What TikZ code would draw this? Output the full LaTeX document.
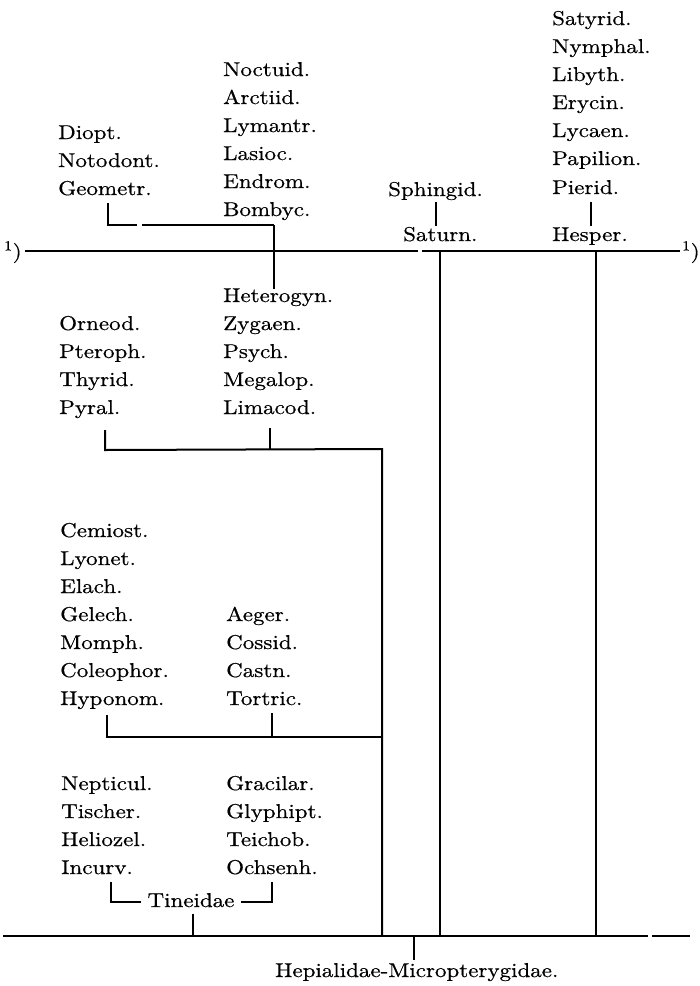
\documentclass[tikz,border=0pt]{standalone}
\usepackage{fontspec}
\setmainfont{lmroman10-regular.otf}[FakeBold=0.6, FakeStretch=1.15]
\newcommand\fsz{\fontsize{20}{24}\selectfont}
\tikzset{
  lbl/.style={anchor=base west, inner sep=0pt, font=\fsz},
  rule/.style={line width=2.2pt},
  conn/.style={line width=2pt}
}
\begin{document}
\begin{tikzpicture}[x=1pt,y=-1pt]
\useasboundingbox (0,0) rectangle (700,986);
% ---------- top right column
\node[lbl] (satyrid) at (552,25) {Satyrid.};
\node[lbl] (nymphal) at (552,53) {Nymphal.};
\node[lbl] (libyth) at (552,81) {Libyth.};
\node[lbl] (erycin) at (552,109) {Erycin.};
\node[lbl] (lycaen) at (552,137) {Lycaen.};
\node[lbl] (papilion) at (552,165) {Papilion.};
\node[lbl] (pierid) at (552,194) {Pierid.};
\node[lbl] (hesper) at (552,241) {Hesper.};
\node[lbl] (sphingid) at (388,196) {Sphingid.};
\node[lbl] (saturn) at (403,241) {Saturn.};
% ---------- top middle column
\node[lbl] (noctuid) at (223,76) {Noctuid.};
\node[lbl] (arctiid) at (223,104) {Arctiid.};
\node[lbl] (lymantr) at (223,132) {Lymantr.};
\node[lbl] (lasioc) at (223,160) {Lasioc.};
\node[lbl] (endrom) at (223,188) {Endrom.};
\node[lbl] (bombyc) at (223,216) {Bombyc.};
% ---------- top left column
\node[lbl] (diopt) at (58,139) {Diopt.};
\node[lbl] (notodont) at (58,167) {Notodont.};
\node[lbl] (geometr) at (58,195) {Geometr.};
% ---------- notes
\node[lbl] (noteL) at (4,258) {\textsuperscript{1})};
\node[lbl] (noteR) at (682,258) {\textsuperscript{1})};
% ---------- second block
\node[lbl] (heterogyn) at (223,302) {Heterogyn.};
\node[lbl] (zygaen) at (223,330) {Zygaen.};
\node[lbl] (psych) at (223,358) {Psych.};
\node[lbl] (megalop) at (223,386) {Megalop.};
\node[lbl] (limacod) at (223,414) {Limacod.};
\node[lbl] (orneod) at (59,330) {Orneod.};
\node[lbl] (pteroph) at (59,358) {Pteroph.};
\node[lbl] (thyrid) at (59,386) {Thyrid.};
\node[lbl] (pyral) at (59,414) {Pyral.};
% ---------- third block
\node[lbl] (cemiost) at (60,537) {Cemiost.};
\node[lbl] (lyonet) at (60,565) {Lyonet.};
\node[lbl] (elach) at (60,593) {Elach.};
\node[lbl] (gelech) at (60,621) {Gelech.};
\node[lbl] (momph) at (60,649) {Momph.};
\node[lbl] (coleophor) at (60,677) {Coleophor.};
\node[lbl] (hyponom) at (60,705) {Hyponom.};
\node[lbl] (aeger) at (226,621) {Aeger.};
\node[lbl] (cossid) at (226,649) {Cossid.};
\node[lbl] (castn) at (226,677) {Castn.};
\node[lbl] (tortric) at (226,705) {Tortric.};
% ---------- fourth block
\node[lbl] (nepticul) at (61,790) {Nepticul.};
\node[lbl] (tischer) at (61,818) {Tischer.};
\node[lbl] (heliozel) at (61,846) {Heliozel.};
\node[lbl] (incurv) at (61,874) {Incurv.};
\node[lbl] (gracilar) at (226,790) {Gracilar.};
\node[lbl] (glyphipt) at (226,818) {Glyphipt.};
\node[lbl] (teichob) at (226,846) {Teichob.};
\node[lbl] (ochsenh) at (226,874) {Ochsenh.};
\node[lbl, anchor=base] (tineidae) at (191,907) {Tineidae};
\node[lbl] (hepial) at (275,977) {Hepialidae-Micropterygidae.};
% ---------- coordinates
\coordinate (mL) at (25,251);
\coordinate (mR) at (680,251);
\coordinate (g1) at (108,203);
\coordinate (g2) at (108,225);
\coordinate (j1) at (274,225);
\coordinate (j2) at (274,289);
\coordinate (s1) at (436,202);
\coordinate (s2) at (436,226);
\coordinate (p1) at (591,202);
\coordinate (p2) at (591,226);
\coordinate (sa1) at (440,252);
\coordinate (sa2) at (440,936);
\coordinate (he1) at (596,252);
\coordinate (he2) at (596,936);
\coordinate (py1) at (105,430);
\coordinate (py2) at (105,450);
\coordinate (li1) at (270,428);
\coordinate (li2) at (270,450);
\coordinate (tr1) at (382,449);
\coordinate (tr2) at (382,936);
\coordinate (hy1) at (107,715);
\coordinate (hy2) at (107,737);
\coordinate (to1) at (272,713);
\coordinate (to2) at (272,737);
\coordinate (tr3) at (382,737);
\coordinate (in1) at (111,882);
\coordinate (in2) at (111,902);
\coordinate (oc1) at (272,882);
\coordinate (oc2) at (272,902);
\coordinate (ti1) at (193,914);
\coordinate (ti2) at (193,936);
\coordinate (bL) at (3,936);
\coordinate (bR) at (690,936);
\coordinate (hp1) at (414,937);
\coordinate (hp2) at (414,960);
% ---------- lines
\draw[rule] (mL) -- (418,251);
\draw[rule] (422,251) -- (mR);
\draw[conn] (g1) -- (g2) -- (137,225);
\draw[conn] (142,225) -- (j1);
\draw[conn] (j1) -- (j2);
\draw[conn] (s1) -- (s2);
\draw[conn] (p1) -- (p2);
\draw[conn] (sa1) -- (sa2);
\draw[conn] (he1) -- (he2);
\draw[conn] (py1) -- (py2) -- (tr1) -- (tr2);
\draw[conn] (li1) -- (li2);
\draw[conn] (hy1) -- (hy2) -- (tr3);
\draw[conn] (to1) -- (to2);
\draw[conn] (in1) -- (in2) -- ([xshift=-6pt]tineidae.west |- in2);
\draw[conn] (oc1) -- (oc2) -- ([xshift=6pt]tineidae.east |- oc2);
\draw[conn] (ti1) -- (ti2);
\draw[rule] (bL) -- (648,936);
\draw[rule] (652,936) -- (bR);
\draw[conn] (hp1) -- (hp2);
\end{tikzpicture}
\end{document}
